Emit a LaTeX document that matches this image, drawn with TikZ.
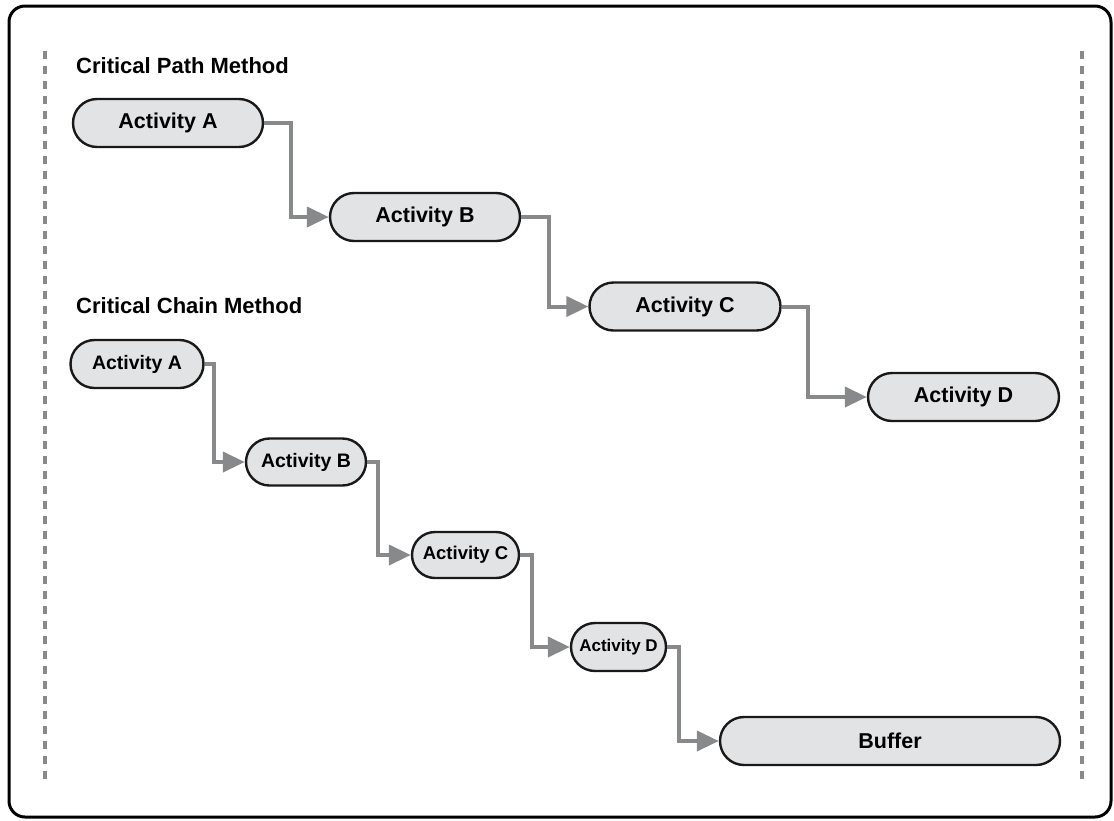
\documentclass[tikz,border=0pt]{standalone}
\usepackage{fontspec}
\setmainfont{Liberation Sans}
\usepackage{xcolor}
\usetikzlibrary{arrows.meta,shapes.misc}
\definecolor{actfill}{HTML}{E2E3E5}
\definecolor{linkgray}{HTML}{88898B}
\newcommand{\actsize}[1]{\fontsize{#1}{#1}\selectfont\bfseries}

\begin{document}
\begin{tikzpicture}[x=1pt, y=-1pt,
  activity/.style={rounded rectangle, draw=black!90, line width=2.4pt, fill=actfill,
    minimum height=48pt, inner sep=0pt},
  link/.style={draw=linkgray, line width=4pt,
    -{Triangle[length=22pt, width=20pt]}},
  heading/.style={anchor=base west, inner sep=0pt, font=\actsize{22pt}}]
\useasboundingbox (0,0) rectangle (1114,820);
% frame and side markers
\draw[line width=3pt, rounded corners=16pt] (9,6) rectangle (1111,817);
\draw[linkgray, line width=3.5pt, dash pattern=on 8pt off 7pt] (45,51) -- (45,781);
\draw[linkgray, line width=3.5pt, dash pattern=on 8pt off 7pt] (1082,51) -- (1082,781);

% Critical Path Method
\node[heading] (cpmlabel) at (76,73) {Critical Path Method};
\node[activity, minimum width=190pt, font=\actsize{21.5pt}] (cpmA) at (168,123) {Activity A};
\node[activity, minimum width=190pt, font=\actsize{21.5pt}] (cpmB) at (425,217) {Activity B};
\node[activity, minimum width=191pt, font=\actsize{21.5pt}] (cpmC) at (685,306.5) {Activity C};
\node[activity, minimum width=191pt, font=\actsize{21.5pt}] (cpmD) at (963.5,397) {Activity D};
\draw[link] (cpmA.east) -- ++(27,0) |- (cpmB.west);
\draw[link] (cpmB.east) -- ++(28,0) |- (cpmC.west);
\draw[link] (cpmC.east) -- ++(26,0) |- (cpmD.west);

% Critical Chain Method
\node[heading] (ccmlabel) at (76,313) {Critical Chain Method};
\node[activity, minimum width=133pt, font=\actsize{19.5pt}] (ccmA) at (137,364) {Activity A};
\node[activity, minimum width=120pt, minimum height=47pt, font=\actsize{19.5pt}] (ccmB) at (306,462) {Activity B};
\node[activity, minimum width=107pt, minimum height=46pt, font=\actsize{18.5pt}] (ccmC) at (465.5,555) {Activity C};
\node[activity, minimum width=95pt, font=\actsize{17pt}] (ccmD) at (618.5,647) {Activity D};
\node[activity, minimum width=340pt, font=\actsize{21.5pt}] (buffer) at (890,741) {Buffer};
\draw[link] (ccmA.east) -- ++(9,0) |- (ccmB.west);
\draw[link] (ccmB.east) -- ++(11,0) |- (ccmC.west);
\draw[link] (ccmC.east) -- ++(12,0) |- (ccmD.west);
\draw[link] (ccmD.east) -- ++(12,0) |- (buffer.west);
\end{tikzpicture}
\end{document}
